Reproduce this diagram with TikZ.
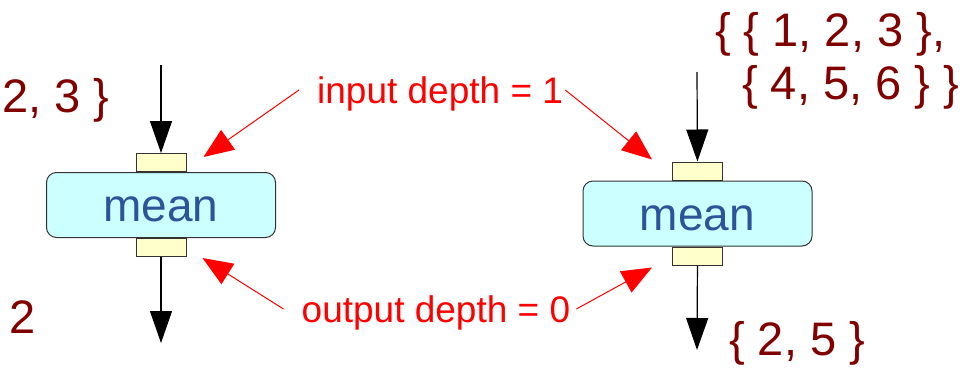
\documentclass[tikz,border=0pt]{standalone}
\usepackage{fontspec}
\setmainfont{Liberation Sans}
\usetikzlibrary{arrows.meta,positioning}
\definecolor{darkred}{RGB}{128,0,0}
\definecolor{meanblue}{RGB}{42,85,153}
\definecolor{boxcyan}{RGB}{204,255,255}
\definecolor{portyellow}{RGB}{255,255,204}

\begin{document}
\begin{tikzpicture}[x=1pt, y=-1pt, node distance=0pt,
  blk/.style={-{Triangle[length=32pt,width=22pt]}, line width=1.2pt},
  redarr/.style={-{Triangle[length=30pt,width=24pt]}, red, line width=1pt},
  fn/.style={draw=black!80, line width=1pt, fill=boxcyan, rounded corners=10pt, minimum width=229pt, minimum height=65pt, text height=33pt, text depth=0pt, text=meanblue, font=\fontsize{46}{50}\selectfont},
  port/.style={draw=black!80, line width=1pt, fill=portyellow, minimum width=50pt, minimum height=18pt, inner sep=0pt},
  val/.style={anchor=base west, inner sep=0pt, text=darkred, font=\fontsize{47}{52}\selectfont},
  lbl/.style={anchor=base west, inner sep=0pt, text=red, text height=26pt, text depth=0pt, font=\fontsize{37}{40}\selectfont}]
\useasboundingbox (0,0) rectangle (963,369);
% left: mean of a list
\node[port] (inL) at (161,162.5) {};
\node[fn] (meanL) [below=of inL] {mean};
\node[port] (outL) [below=of meanL] {};
\coordinate (srcL) at (161,65); \coordinate (dstL) at (161,343);
\draw[blk] (srcL) -- (inL); \draw[blk] (outL) -- (dstL);
\node[val] (vinL) at (2,112) {2, 3 \}};
\node[val] (voutL) at (9,333) {2};
% right: mean of a list of lists
\node[port] (inR) at (697.5,171) {};
\node[fn] (meanR) [below=of inR] {mean};
\node[port] (outR) [below=of meanR] {};
\coordinate (srcR) at (697,72); \coordinate (dstR) at (697,350);
\draw[blk] (srcR) -- (inR); \draw[blk] (outR) -- (dstR);
\node[val] (vinR1) at (715,47) {\{ \{ 1, 2, 3 \},};
\node[val] (vinR2) at (742,99) {\{ 4, 5, 6 \} \}};
\node[val] (voutR) at (729,355) {\{ 2, 5 \}};
% depth labels
\node[lbl] (dIn) at (317,103) {input depth = 1};
\node[lbl] (dOut) at (301.5,322) {output depth = 0};
\draw[redarr] ([xshift=-18pt]dIn.west) -- ([xshift=17pt,yshift=-4pt]inL.north east);
\draw[redarr] ([xshift=2pt]dIn.east) -- ([xshift=-20pt,yshift=2pt]inR.north west);
\draw[redarr] ([xshift=-18pt]dOut.west) -- ([xshift=16pt,yshift=-1pt]outL.south east);
\draw[redarr] ([xshift=6pt]dOut.east) -- ([xshift=-20pt,yshift=-2pt]outR.south west);
\end{tikzpicture}
\end{document}
